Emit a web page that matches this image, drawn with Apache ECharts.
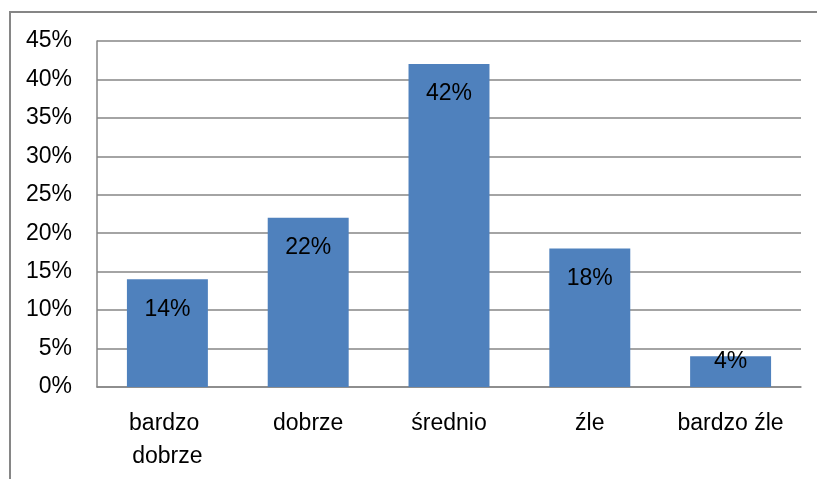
<!DOCTYPE html>
<html>
<head>
<meta charset="utf-8">
<script src="https://cdn.jsdelivr.net/npm/echarts@6/dist/echarts.min.js"></script>
<style>
    html, body { margin: 0; padding: 0; background: #fff; }
    #chart { width: 817px; height: 479px; }
</style>
</head>
<body>
<div id="chart"></div>
<script>
const categories = ['bardzo dobrze', 'dobrze', 'średnio', 'źle', 'bardzo źle'];
const values = [14, 22, 42, 18, 4];
const yTicks = [0, 5, 10, 15, 20, 25, 30, 35, 40, 45];

const font = '"Liberation Sans", Arial, sans-serif';
const gridColor = '#868686';

const myChart = echarts.init(document.getElementById('chart'));

// short bars get their label pushed up like Excel does
const barData = values.map(v => ({
    value: v,
    label: { position: ['50%', v < 8 ? 5 : 30] }
}));

const option = {
    animation: false,
    backgroundColor: '#fff',
    graphic: [{
        type: 'rect',
        shape: { x: 10, y: 12, width: 900, height: 600 },
        style: { fill: 'none', stroke: gridColor, lineWidth: 2 },
        silent: true
    }],
    grid: { left: 97, right: 16, top: 41, bottom: 92 },
    xAxis: {
        type: 'category',
        data: categories,
        axisLine: { lineStyle: { color: gridColor, width: 1.5 } },
        axisTick: { show: false },
        axisLabel: {
            color: '#000',
            fontFamily: font,
            fontSize: 23,
            lineHeight: 33,
            margin: 20,
            width: 125,
            overflow: 'break',
            interval: 0
        }
    },
    yAxis: {
        type: 'value',
        min: yTicks[0],
        max: yTicks[yTicks.length - 1],
        interval: 5,
        axisLine: { show: true, lineStyle: { color: gridColor, width: 1.5 } },
        axisTick: { show: false },
        splitLine: { lineStyle: { color: gridColor, width: 1.5 } },
        axisLabel: {
            color: '#000',
            fontFamily: font,
            fontSize: 23,
            margin: 25,
            formatter: v => v + '%'
        }
    },
    series: [{
        type: 'bar',
        data: barData,
        barWidth: '57.5%',
        itemStyle: { color: '#4F81BD' },
        label: {
            show: true,
            align: 'center',
            verticalAlign: 'middle',
            color: '#000',
            fontFamily: font,
            fontSize: 23,
            formatter: p => p.value + '%'
        }
    }]
};
myChart.setOption(option);
</script>
</body>
</html>
